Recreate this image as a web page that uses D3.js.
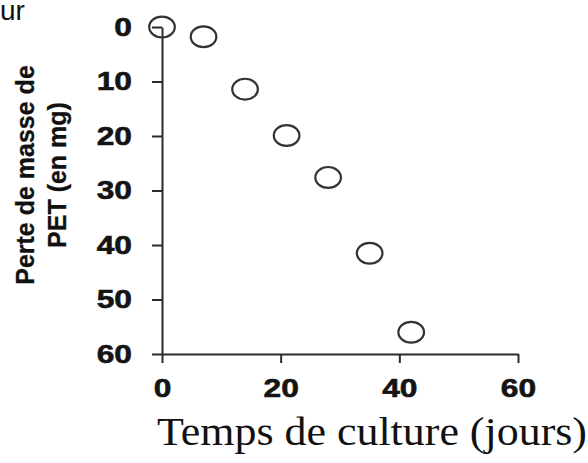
<!DOCTYPE html>
<html>
<head>
<meta charset="utf-8">
<script src="https://cdn.jsdelivr.net/npm/d3@7"></script>
<style>
  html, body { margin: 0; padding: 0; background: #fff; }
  svg { display: block; }
</style>
</head>
<body>
<svg id="chart" width="588" height="463"></svg>
<script>
// Data
const days = [0, 7, 14, 21, 28, 35, 42];
const massLoss = [0, 1.8, 11.4, 19.9, 27.6, 41.5, 56];
const xTicks = [0, 20, 40, 60];
const yTicks = [0, 10, 20, 30, 40, 50, 60];
const xTitle = "Temps de culture (jours)";
const yTitleLines = ["Perte de masse de", "PET (en mg)"];
const cornerText = "ur";

const svg = d3.select("#chart");
const x = d3.scaleLinear().domain([0, 60]).range([162, 518]);
const y = d3.scaleLinear().domain([0, 60]).range([27, 354]);
const axisColor = "#2b2b2b";
const labelColor = "#141414";
const stretch = 1.22;

// corner cropped text
svg.append("text")
  .attr("x", 0).attr("y", 20)
  .attr("font-family", "Liberation Sans, Arial, sans-serif")
  .attr("font-size", 28)
  .attr("fill", "#111")
  .text(cornerText);

// Y axis
const yAxis = d3.axisLeft(y).tickValues(yTicks).tickSize(10).tickSizeOuter(0).tickPadding(20);
const gy = svg.append("g").attr("transform", `translate(${x(0)},0)`).call(yAxis);
gy.select(".domain").attr("stroke", axisColor).attr("stroke-width", 2);
gy.selectAll(".tick line").attr("stroke", axisColor).attr("stroke-width", 2);
gy.selectAll(".tick text")
  .attr("font-family", "Liberation Sans, Arial, sans-serif")
  .attr("font-weight", "bold")
  .attr("font-size", 26)
  .attr("fill", labelColor)
  .attr("stroke", labelColor)
  .attr("stroke-width", 0.6)
  .attr("x", -30 / stretch)
  .attr("transform", `scale(${stretch},1)`);

// X axis
const xAxis = d3.axisBottom(x).tickValues(xTicks).tickSize(9).tickSizeOuter(0).tickPadding(16);
const gx = svg.append("g").attr("transform", `translate(0,${y(60)})`).call(xAxis);
gx.select(".domain").attr("stroke", axisColor).attr("stroke-width", 2);
gx.selectAll(".tick line").attr("stroke", axisColor).attr("stroke-width", 2);
gx.selectAll(".tick text")
  .attr("font-family", "Liberation Sans, Arial, sans-serif")
  .attr("font-weight", "bold")
  .attr("font-size", 26)
  .attr("fill", labelColor)
  .attr("stroke", labelColor)
  .attr("stroke-width", 0.6)
  .attr("transform", `scale(${stretch},1)`);

// Points (open ellipses)
svg.append("g").selectAll("ellipse")
  .data(days.map((d, i) => ({ d, v: massLoss[i] })))
  .join("ellipse")
  .attr("cx", p => x(p.d))
  .attr("cy", p => y(p.v))
  .attr("rx", 12.8)
  .attr("ry", 10.4)
  .attr("fill", "none")
  .attr("stroke", "#333")
  .attr("stroke-width", 2.2);

// X title
svg.append("text")
  .attr("x", 157).attr("y", 445)
  .attr("font-family", "Liberation Serif, 'DejaVu Serif', serif")
  .attr("font-size", 40)
  .attr("fill", "#111")
  .attr("textLength", 430)
  .attr("lengthAdjust", "spacingAndGlyphs")
  .text(xTitle);

// Y title (two rotated lines)
const yt = svg.append("text")
  .attr("transform", "translate(0,175) rotate(-90)")
  .attr("text-anchor", "middle")
  .attr("font-family", "Liberation Sans, Arial, sans-serif")
  .attr("font-weight", "bold")
  .attr("font-size", 25)
  .attr("fill", "#111")
  .attr("stroke", "#111")
  .attr("stroke-width", 0.3);
yTitleLines.forEach((t, i) => {
  yt.append("tspan").attr("x", 0).attr("y", 34 + i * 32).text(t);
});
</script>
</body>
</html>
